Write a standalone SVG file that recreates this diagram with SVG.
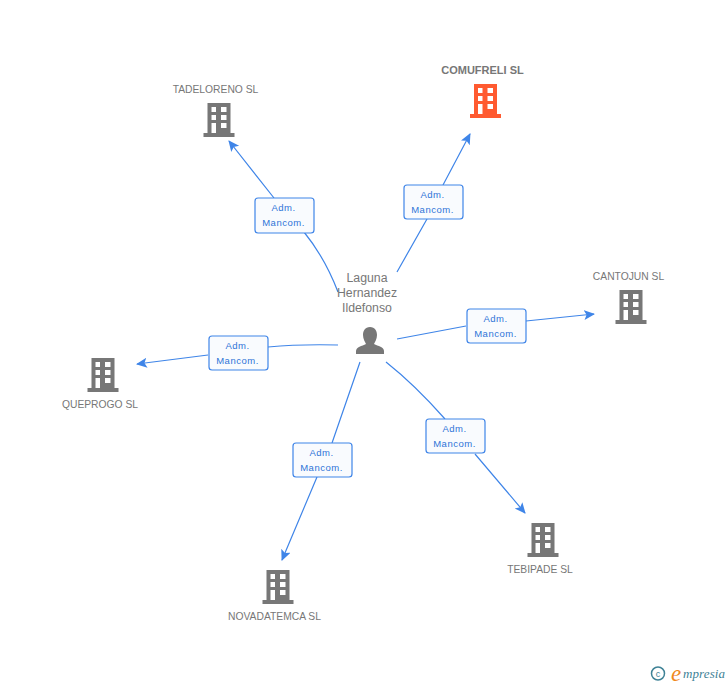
<svg xmlns="http://www.w3.org/2000/svg" xmlns:xlink="http://www.w3.org/1999/xlink" width="728" height="685" viewBox="0 0 728 685">
<style>
text{font-family:"Liberation Sans",Arial,sans-serif}
.n{font-size:10.3px;fill:#777;text-anchor:middle}
.c{fill:none;stroke:#3f85e8;stroke-width:1.2}
.b{fill:#f9fbfe;stroke:#3f85e8;stroke-width:1.2}
.l{font-size:9.5px;fill:#2f74d8;text-anchor:middle;letter-spacing:.5px}
.p{font-size:12.3px;fill:#777;text-anchor:middle}
</style>
<defs>
<marker id="a" markerWidth="12" markerHeight="12" refX="10" refY="5" orient="auto" markerUnits="userSpaceOnUse"><path d="M0 0L11 5L0 10L2.500 5Z" fill="#3f85e8"/></marker>
<g id="bld">
<path fill-rule="evenodd" d="M-11.500 -17H11.500V13H15.500V17H-15.500V13H-11.500ZM-7.500 -13V-8H-3V-13ZM2 -13V-8H7.500V-13ZM-7.500 -5V0H-3V-5ZM2 -5V0H7.500V-5ZM-7.500 3V13H-3V3ZM2 3V8H7.500V3Z"/>
</g>
</defs>
<rect width="728" height="685" fill="#fff"/>
<g id="connectors">
<path class="c" marker-end="url(#a)" d="M338 292Q325 258 304 232M274 198L229 141"/>
<path class="c" marker-end="url(#a)" d="M397 272L427 219M443 185L470 134"/>
<path class="c" marker-end="url(#a)" d="M397 339L466 326M526 321L594 314"/>
<path class="c" marker-end="url(#a)" d="M386 362Q415 385 445 419M475 454L525 513"/>
<path class="c" marker-end="url(#a)" d="M360 362L332 443M317 477L282 560"/>
<path class="c" marker-end="url(#a)" d="M338 345Q300 344 268 347M208 355L137 364"/>
</g>
<g id="n-tadeloreno"><text class="n" x="215.500" y="93">TADELORENO SL</text><use xlink:href="#bld" href="#bld" x="219" y="120" fill="#777"/></g>
<g id="n-comufreli"><text class="n" x="482.500" y="74" style="font-weight:bold;font-size:11px">COMUFRELI SL</text><use xlink:href="#bld" href="#bld" x="485.500" y="101" fill="#ff5a30"/></g>
<g id="n-cantojun"><text class="n" x="628.500" y="280">CANTOJUN SL</text><use xlink:href="#bld" href="#bld" x="631" y="307" fill="#777"/></g>
<g id="n-queprogo"><text class="n" x="100" y="408">QUEPROGO SL</text><use xlink:href="#bld" href="#bld" x="103" y="375" fill="#777"/></g>
<g id="n-novadatemca"><text class="n" x="274.500" y="620">NOVADATEMCA SL</text><use xlink:href="#bld" href="#bld" x="278" y="587" fill="#777"/></g>
<g id="n-tebipade"><text class="n" x="540" y="573">TEBIPADE SL</text><use xlink:href="#bld" href="#bld" x="543" y="540" fill="#777"/></g>
<g id="n-person">
<text class="p" x="367" y="282">Laguna</text><text class="p" x="367" y="297">Hernandez</text><text class="p" x="367" y="312">Ildefonso</text>
<path fill="#777" d="M370 327C375 327 377 331 377 335C377 339 375 342 374 344C378 346 384 347 384 351V354H356V351C356 347 362 346 366 344C365 342 363 339 363 335C363 331 365 327 370 327Z"/>
</g>
<g id="e1"><rect class="b" x="255" y="198" width="59" height="35" rx="3"/><text class="l" x="283.500" y="211">Adm.</text><text class="l" x="283.500" y="226">Mancom.</text></g>
<g id="e2"><rect class="b" x="404" y="185" width="59" height="34" rx="3"/><text class="l" x="432.500" y="198">Adm.</text><text class="l" x="432.500" y="213">Mancom.</text></g>
<g id="e3"><rect class="b" x="467" y="309" width="59" height="34" rx="3"/><text class="l" x="495.500" y="322">Adm.</text><text class="l" x="495.500" y="337">Mancom.</text></g>
<g id="e4"><rect class="b" x="209" y="336" width="59" height="34" rx="3"/><text class="l" x="237.500" y="349">Adm.</text><text class="l" x="237.500" y="364">Mancom.</text></g>
<g id="e5"><rect class="b" x="426" y="419" width="59" height="34" rx="3"/><text class="l" x="454.500" y="432">Adm.</text><text class="l" x="454.500" y="447">Mancom.</text></g>
<g id="e6"><rect class="b" x="293" y="443" width="59" height="34" rx="3"/><text class="l" x="321.500" y="456">Adm.</text><text class="l" x="321.500" y="471">Mancom.</text></g>
<g id="logo"><circle cx="658" cy="673.500" r="6.500" fill="none" stroke="#3e8296" stroke-width="1.500"/><text x="658" y="677" font-size="9" fill="#3e8296" text-anchor="middle">c</text><text x="671" y="681" font-size="23" font-style="italic" fill="#f08a1d" style="font-family:'Liberation Serif',serif">e</text><text x="683" y="678" font-size="13" font-style="italic" fill="#3e8296" style="font-family:'Liberation Serif',serif" textLength="42">mpresia</text></g>
</svg>
